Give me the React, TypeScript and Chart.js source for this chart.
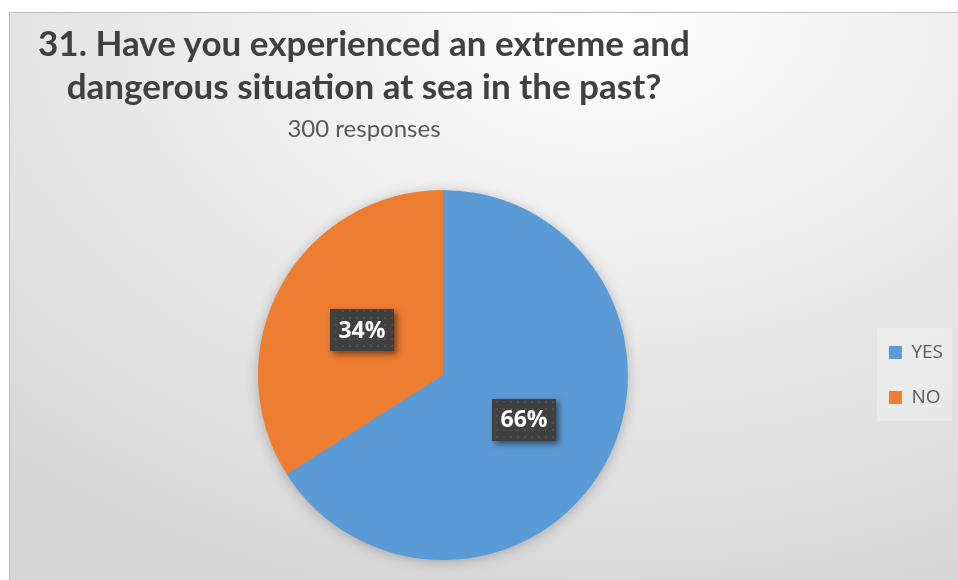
import React, { useEffect, useRef } from 'react';
import { Chart, registerables } from 'chart.js';

Chart.register(...registerables);

const categories = ['YES', 'NO'];
const responses = [198, 102];
const sliceColors = ['#5B9BD5', '#ED7D31'];
const titleLines = ['31. Have you experienced an extreme and', 'dangerous situation at sea in the past?'];
const subtitleText = '300 responses';

const legendBgPlugin = {
  id: 'legendBg',
  beforeDraw(chart: any) {
    const lg = chart.legend;
    if (!lg || !lg.legendHitBoxes || !lg.legendHitBoxes.length) return;
    const hb = lg.legendHitBoxes;
    const first = hb[0];
    const last = hb[hb.length - 1];
    const ctx = chart.ctx;
    ctx.save();
    ctx.fillStyle = 'rgba(255,255,255,0.28)';
    const x = first.left - 12;
    const y = first.top - 15;
    ctx.fillRect(x, y, 75, last.top + last.height + 14 - y);
    ctx.restore();
  },
};

const pieShadowPlugin = {
  id: 'pieShadow',
  beforeDatasetsDraw(chart: any) {
    const meta = chart.getDatasetMeta(0);
    const arc = meta.data[0];
    if (!arc) return;
    const ctx = chart.ctx;
    ctx.save();
    ctx.shadowColor = 'rgba(0,0,0,0.28)';
    ctx.shadowBlur = 14;
    ctx.shadowOffsetX = 0;
    ctx.shadowOffsetY = 2;
    ctx.beginPath();
    ctx.arc(arc.x, arc.y, arc.outerRadius - 1, 0, Math.PI * 2);
    ctx.fillStyle = '#999999';
    ctx.fill();
    ctx.restore();
  },
};

function makeLabelPlugin(pattern: CanvasPattern | string) {
  return {
    id: 'pctLabels',
    afterDatasetsDraw(chart: any) {
      const meta = chart.getDatasetMeta(0);
      const data = chart.data.datasets[0].data as number[];
      const total = data.reduce((a, b) => a + b, 0);
      const ctx = chart.ctx;
      meta.data.forEach((arc: any, i: number) => {
        const pos = arc.tooltipPosition();
        const text = Math.round((data[i] / total) * 100) + '%';
        ctx.save();
        ctx.font = 'bold 23px "Open Sans"';
        const w = 64;
        const h = 42;
        const x = Math.round(pos.x - w / 2);
        const y = Math.round(pos.y - h / 2);
        ctx.shadowColor = 'rgba(0,0,0,0.5)';
        ctx.shadowBlur = 6;
        ctx.shadowOffsetX = 3;
        ctx.shadowOffsetY = 3;
        ctx.fillStyle = '#404040';
        ctx.fillRect(x, y, w, h);
        ctx.shadowColor = 'transparent';
        ctx.fillStyle = pattern;
        ctx.fillRect(x, y, w, h);
        ctx.fillStyle = '#ffffff';
        ctx.textAlign = 'center';
        ctx.textBaseline = 'middle';
        ctx.fillText(text, pos.x, pos.y + 1);
        ctx.restore();
      });
    },
  };
}

export default function App() {
  const ref = useRef<HTMLCanvasElement>(null);

  useEffect(() => {
    const canvas = ref.current;
    if (!canvas) return;
    const pc = document.createElement('canvas');
    pc.width = 7;
    pc.height = 7;
    const pctx = pc.getContext('2d')!;
    pctx.fillStyle = '#404040';
    pctx.fillRect(0, 0, 7, 7);
    pctx.fillStyle = '#4f4f4f';
    pctx.fillRect(3, 3, 2, 2);
    const pattern = canvas.getContext('2d')!.createPattern(pc, 'repeat') || '#404040';

    const chart = new Chart(canvas, {
      type: 'pie',
      data: {
        labels: categories,
        datasets: [
          {
            data: responses,
            backgroundColor: sliceColors,
            borderWidth: 0,
          },
        ],
      },
      options: {
        responsive: false,
        animation: false,
        layout: { padding: { top: 177, bottom: 20, left: 13, right: 5 } },
        plugins: {
          legend: {
            position: 'right',
            labels: {
              boxWidth: 13,
              boxHeight: 13,
              padding: 26,
              color: '#595959',
              font: { family: '"Open Sans"', size: 19 },
            },
          },
          tooltip: { enabled: false },
          title: { display: false },
        },
      },
      plugins: [legendBgPlugin, pieShadowPlugin, makeLabelPlugin(pattern)],
    } as any);
    return () => chart.destroy();
  }, []);

  return (
    <div
      style={{
        position: 'fixed',
        left: 0,
        top: 0,
        width: 958,
        height: 580,
        overflow: 'hidden',
        background: '#ffffff',
      }}
    >
      <div
        style={{
          position: 'absolute',
          left: 9,
          top: 12,
          width: 960,
          height: 580,
          borderTop: '1px solid #bdbdbd',
          borderLeft: '1px solid #bdbdbd',
          background:
            'radial-gradient(ellipse 900px 620px at 62% 0%, #ffffff 0%, #f0f0f0 35%, #e2e2e2 70%, #d6d6d6 100%)',
        }}
      >
        <canvas
          ref={ref}
          width={948}
          height={567}
          style={{ position: 'absolute', left: 0, top: 0, display: 'block' }}
        />
      </div>
      <div
        style={{
          position: 'absolute',
          left: 0,
          top: 21,
          width: 728,
          textAlign: 'center',
          fontFamily: 'Lato',
          fontWeight: 700,
          fontSize: 35,
          lineHeight: '43px',
          color: '#404040',
          whiteSpace: 'nowrap',
        }}
      >
        {titleLines.map((l) => (
          <div key={l}>{l}</div>
        ))}
      </div>
      <div
        style={{
          position: 'absolute',
          left: 0,
          top: 113,
          width: 728,
          textAlign: 'center',
          fontFamily: 'Lato',
          fontSize: 24,
          lineHeight: '29px',
          color: '#595959',
          whiteSpace: 'nowrap',
        }}
      >
        {subtitleText}
      </div>
    </div>
  );
}
